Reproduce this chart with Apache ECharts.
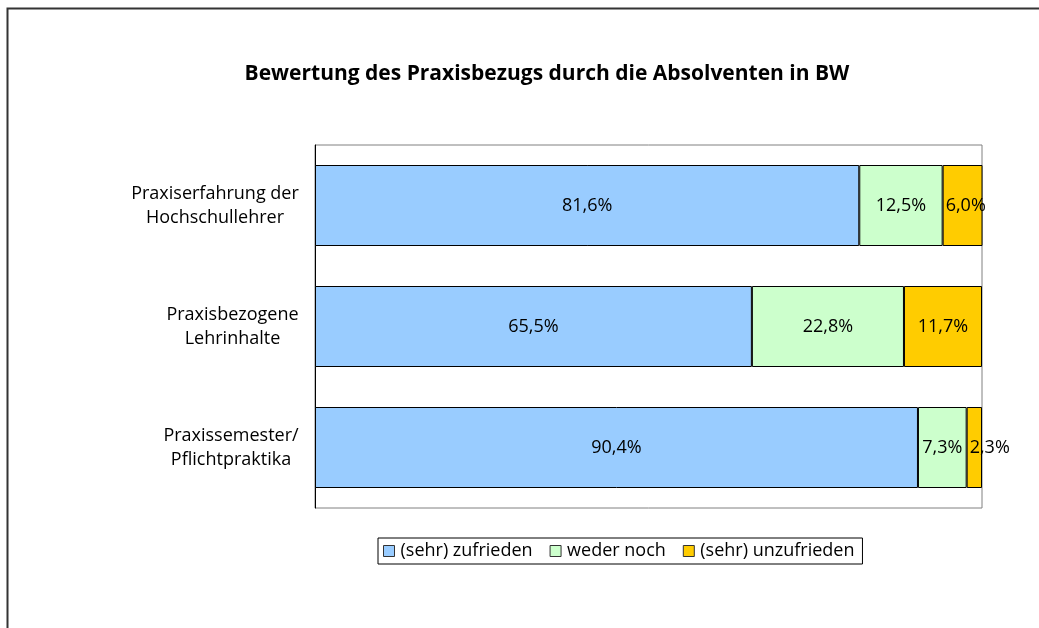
<!DOCTYPE html>
<html>
<head>
<meta charset="utf-8">
<script src="https://cdn.jsdelivr.net/npm/echarts@6/dist/echarts.min.js"></script>
<style>
  html, body { margin: 0; padding: 0; background: #fff; }
  #chart { width: 1039px; height: 628px; }
</style>
</head>
<body>
<div id="chart"></div>
<script>
// Daten aus der Grafik
var categories = ["Praxiserfahrung der\nHochschullehrer", "Praxisbezogene\nLehrinhalte", "Praxissemester/\nPflichtpraktika"];
var seriesNames = ["(sehr) zufrieden", "weder noch", "(sehr) unzufrieden"];
var zufrieden = [81.6, 65.5, 90.4];
var wederNoch = [12.5, 22.8, 7.3];
var unzufrieden = [6.0, 11.7, 2.3];
var colors = ["#99CCFF", "#CCFFCC", "#FFCC00"];

var chartDom = document.getElementById("chart");
var myChart = echarts.init(chartDom);
var font = "Open Sans";
var labelSize = 18;

// Breite jeder Beschriftung messen, damit die Zeilen zueinander zentriert sind
var ctx = document.createElement("canvas").getContext("2d");
ctx.font = labelSize + "px '" + font + "'";
var rich = {};
categories.forEach(function (c, i) {
  var w = Math.max.apply(null, c.split("\n").map(function (l) { return ctx.measureText(l).width; }));
  rich["c" + i] = { width: Math.ceil(w), align: "center", fontFamily: font, fontSize: labelSize, lineHeight: 24, color: "#000" };
});

function makeSeries(name, data, color) {
  return {
    name: name,
    type: "bar",
    stack: "gesamt",
    barWidth: 81,
    data: data,
    itemStyle: { color: color, borderColor: "#000", borderWidth: 1 },
    label: {
      show: true,
      position: "inside",
      color: "#000",
      fontFamily: font,
      fontSize: labelSize,
      formatter: function (p) {
        return p.value.toFixed(1).replace(".", ",") + "%";
      },
    },
    // zu breite Beschriftungen wie in Excel am linken Rand des Segments beginnen
    labelLayout: function (p) {
      if (p.labelRect.width > p.rect.width - 4) {
        return { dx: p.rect.x + 3 - p.labelRect.x };
      }
      return {};
    },
  };
}

var option = {
  animation: false,
  color: colors,
  title: {
    text: "Bewertung des Praxisbezugs durch die Absolventen in BW",
    left: 542,
    top: 59,
    textAlign: "center",
    textStyle: { fontFamily: font, fontSize: 21, fontWeight: "bold", color: "#000" },
  },
  legend: {
    data: seriesNames,
    left: 378,
    top: 538,
    orient: "horizontal",
    icon: "rect",
    itemWidth: 11,
    itemHeight: 11,
    itemGap: 17,
    padding: [4, 8, 4, 5],
    borderColor: "#000",
    borderWidth: 1,
    borderRadius: 0,
    textStyle: { fontFamily: font, fontSize: labelSize, color: "#000", padding: [0, 0, 0, 1] },
    itemStyle: { borderColor: "#333", borderWidth: 1 },
  },
  grid: {
    left: 315,
    right: 57,
    top: 145,
    bottom: 120,
    show: true,
    borderColor: "#808080",
    borderWidth: 1,
  },
  xAxis: {
    type: "value",
    min: 0,
    max: 100,
    show: false,
  },
  yAxis: {
    type: "category",
    inverse: true,
    data: categories,
    axisLine: { lineStyle: { color: "#000", width: 1 } },
    axisTick: { length: 6, lineStyle: { color: "#000" } },
    axisLabel: {
      margin: 16,
      align: "right",
      rich: rich,
      formatter: function (v, i) {
        return v.split("\n").map(function (l) { return "{c" + i + "|" + l + "}"; }).join("\n");
      },
    },
  },
  series: [
    makeSeries(seriesNames[0], zufrieden, colors[0]),
    makeSeries(seriesNames[1], wederNoch, colors[1]),
    makeSeries(seriesNames[2], unzufrieden, colors[2]),
  ],
  graphic: [
    {
      type: "polyline",
      silent: true,
      shape: { points: [[7.5, 628], [7.5, 8.5], [1039, 8.5]] },
      style: { stroke: "#333", lineWidth: 2, fill: null },
    },
  ],
};

option && myChart.setOption(option);
</script>
</body>
</html>
